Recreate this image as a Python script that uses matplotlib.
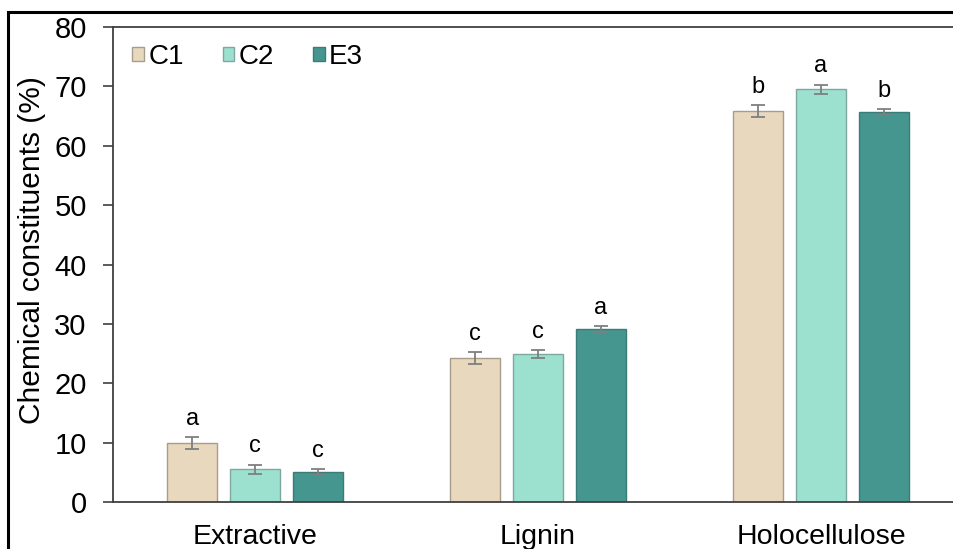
import numpy as np
import matplotlib.pyplot as plt
from matplotlib.patches import Rectangle

plt.rcParams['font.family'] = ['Liberation Sans', 'DejaVu Sans']

# Data
components = ['Extractive', 'Lignin', 'Holocellulose']
samples = ['C1', 'C2', 'E3']
c1 = [10.0, 24.3, 65.8]
c2 = [5.5, 24.9, 69.5]
e3 = [5.1, 29.1, 65.7]
c1_err = [1.0, 1.0, 1.0]
c2_err = [0.8, 0.7, 0.8]
e3_err = [0.5, 0.5, 0.5]
c1_letters = ['a', 'c', 'b']
c2_letters = ['c', 'c', 'a']
e3_letters = ['c', 'a', 'b']

colors = ['#E8D8BE', '#9CE0D0', '#45968F']
edges = ['#A89C8A', '#7FA8A0', '#3A7C77']

fig = plt.figure(figsize=(9.54, 5.49), dpi=100)
ax = fig.add_axes([0.1185, 0.0856, 0.8815, 0.8652])

x = np.arange(len(components))
width = 0.177
step = 0.2226

series = [(c1, c1_err, c1_letters), (c2, c2_err, c2_letters), (e3, e3_err, e3_letters)]
for k, (vals, errs, letters) in enumerate(series):
    pos = x + (k - 1) * step
    ax.bar(pos, vals, width, color=colors[k], edgecolor=edges[k], linewidth=1.0,
           label=samples[k], zorder=2)
    ax.errorbar(pos, vals, yerr=errs, fmt='none', ecolor='#7F7F7F',
                elinewidth=1.3, capsize=5, capthick=1.3, zorder=3)
    for p, v, e, t in zip(pos, vals, errs, letters):
        ax.text(p, v + e + 1.2, t, ha='center', va='bottom', fontsize=17)

ax.set_xlim(-0.502, 2.47)
ax.set_ylim(0, 80)
ax.set_yticks(np.arange(0, 81, 10))
ax.set_xticks(x)
ax.set_xticklabels(components, fontsize=20.5)
ax.tick_params(axis='y', labelsize=21, length=7, width=1.2, color='#404040', pad=12)
ax.tick_params(axis='x', length=0, pad=16)
ax.set_ylabel('Chemical constituents (%)', fontsize=21.5)
ax.yaxis.set_label_coords(-0.080, 0.53)

for side in ['left', 'bottom', 'top']:
    ax.spines[side].set_color('#404040')
    ax.spines[side].set_linewidth(1.3)
ax.spines['right'].set_visible(False)

leg = ax.legend(loc='upper left', ncol=3, frameon=False, fontsize=20,
                handlelength=0.42, handleheight=0.42, handletextpad=0.16,
                columnspacing=1.4, borderpad=0, borderaxespad=0,
                bbox_to_anchor=(0.0226, 0.965))

# outer frame around the panel
fig.add_artist(Rectangle((0.0084, -0.1), 1.2, 1.078, transform=fig.transFigure,
                         fill=False, edgecolor='black', linewidth=2.2, clip_on=False))

fig.savefig('out.png', dpi=100)
